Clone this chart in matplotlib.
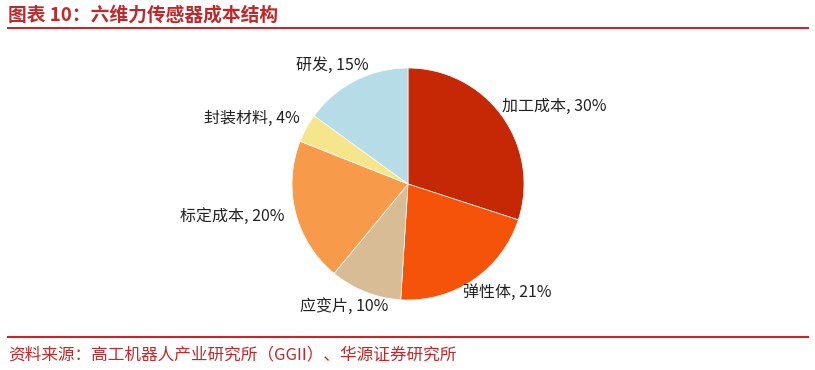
import numpy as np
import matplotlib.pyplot as plt

plt.rcParams['font.family'] = ['Noto Sans CJK SC', 'DejaVu Sans']

# Data
categories = ['加工成本', '弹性体', '应变片', '标定成本', '封装材料', '研发']
shares = [30, 21, 10, 20, 4, 15]
colors = ['#C62805', '#F5520A', '#D8BC95', '#F79A4A', '#F5E58B', '#B6DCE8']
# label placement: radial distance and angle nudge (deg) from wedge middle
label_dist = [1.05, 1.05, 1.07, 1.10, 1.09, 1.08]
label_shift = [3.6, -7.6, 12.5, 0.4, -2.2, -8.7]

fig = plt.figure(figsize=(8.15, 3.7), dpi=100)
red = '#C0282A'

# title and rules
fig.text(8 / 815, 1 - 15 / 370, '图表 10：六维力传感器成本结构', color=red,
         fontsize=13.5, fontweight='bold', va='center', ha='left')
fig.add_artist(plt.Line2D([8 / 815, 808 / 815], [1 - 28 / 370] * 2, color=red, lw=1.5))
fig.add_artist(plt.Line2D([8 / 815, 808 / 815], [1 - 337 / 370] * 2, color=red, lw=1.5))
fig.text(8 / 815, 1 - 355 / 370, '资料来源：高工机器人产业研究所（GGII）、华源证券研究所',
         color=red, fontsize=12, va='center', ha='left')

# pie
cx, cy, r = 408, 184, 116
ax = fig.add_axes([(cx - r) / 815, (370 - cy - r) / 370, 2 * r / 815, 2 * r / 370])
wedges, _ = ax.pie(shares, colors=colors, startangle=90, counterclock=False,
                   wedgeprops=dict(edgecolor='white', linewidth=0.5))
ax.set_xlim(-1, 1)
ax.set_ylim(-1, 1)
ax.set_aspect('equal')
ax.axis('off')

for w, name, val, d, s in zip(wedges, categories, shares, label_dist, label_shift):
    ang = np.deg2rad((w.theta1 + w.theta2) / 2 + s)
    x, y = d * np.cos(ang), d * np.sin(ang)
    ax.text(x, y, f'{name}, {val}%', ha='left' if x > 0 else 'right', va='center',
            fontsize=11.5, color='#222222')

fig.savefig('out.png', dpi=100)
